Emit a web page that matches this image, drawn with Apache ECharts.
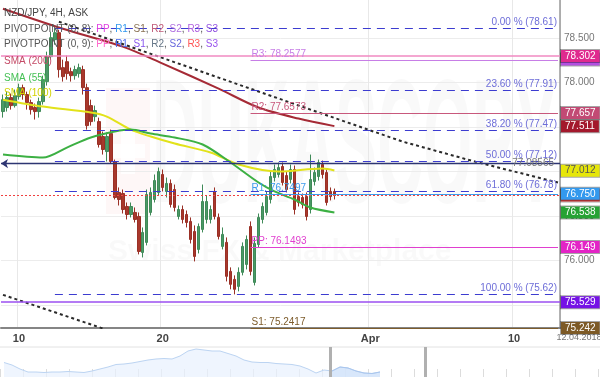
<!DOCTYPE html>
<html>
<head>
<meta charset="utf-8">
<title>NZD/JPY 4H</title>
<script src="https://cdn.jsdelivr.net/npm/echarts@6.0.0/dist/echarts.min.js"></script>
<style>
  html, body { margin: 0; padding: 0; background: #fff; }
  #main { width: 600px; height: 377px; }
</style>
</head>
<body>
<div id="main"></div>
<script>
// 4H candles: [open, close, low, high]
const candles = [
  [77.675, 77.809, 77.607, 77.866], [77.720, 77.832, 77.675, 77.899], [77.832, 77.742, 77.697, 77.877],
  [77.742, 77.854, 77.720, 77.922], [77.843, 77.944, 77.809, 77.989], [77.944, 77.866, 77.809, 77.978],
  [77.866, 77.776, 77.697, 77.899], [77.776, 77.697, 77.641, 77.809], [77.720, 77.675, 77.585, 77.765],
  [77.675, 77.787, 77.607, 77.832], [77.787, 78.034, 77.753, 78.079], [78.012, 78.293, 77.967, 78.349],
  [78.293, 78.506, 78.259, 78.573], [78.484, 78.562, 78.427, 78.613], [78.562, 78.147, 78.057, 78.596],
  [78.169, 78.068, 78.012, 78.259], [78.236, 78.102, 78.034, 78.304], [78.124, 78.079, 78.012, 78.169],
  [78.079, 78.147, 78.034, 78.191], [78.102, 78.169, 78.057, 78.214], [78.147, 77.944, 77.866, 78.191],
  [77.944, 77.517, 77.472, 77.989], [77.742, 77.562, 77.517, 77.809], [77.618, 77.686, 77.562, 77.742],
  [77.562, 77.304, 77.270, 77.607], [77.394, 77.248, 77.191, 77.450], [77.225, 77.394, 77.113, 77.439],
  [77.427, 77.113, 77.090, 77.472], [77.113, 76.708, 76.686, 77.135], [76.765, 76.686, 76.618, 76.821],
  [76.753, 76.573, 76.528, 76.798], [76.607, 76.517, 76.461, 76.652], [76.517, 76.607, 76.484, 76.652],
  [76.540, 76.461, 76.427, 76.596], [76.495, 76.101, 76.068, 76.540], [76.090, 76.315, 76.034, 76.371],
  [76.203, 76.742, 76.169, 76.798], [76.540, 76.765, 76.506, 76.821], [76.686, 76.899, 76.652, 76.967],
  [76.765, 77.000, 76.731, 77.045], [76.967, 76.821, 76.776, 77.023], [76.776, 76.866, 76.708, 76.933],
  [76.866, 76.630, 76.596, 76.911], [76.798, 76.596, 76.551, 76.854], [76.495, 76.573, 76.461, 76.618],
  [76.573, 76.461, 76.416, 76.618], [76.517, 76.427, 76.371, 76.562], [76.439, 76.236, 76.191, 76.484],
  [76.326, 76.045, 75.989, 76.394], [76.124, 76.382, 76.079, 76.416], [76.349, 76.663, 76.315, 76.854],
  [76.461, 76.663, 76.416, 76.731], [76.461, 76.573, 76.416, 76.618], [76.776, 76.495, 76.461, 76.821],
  [76.484, 76.270, 76.236, 76.528], [76.158, 76.293, 76.124, 76.371], [76.203, 75.821, 75.764, 76.259],
  [75.877, 75.731, 75.675, 75.922], [75.787, 75.675, 75.618, 75.832], [75.708, 75.866, 75.652, 75.922],
  [75.866, 76.158, 75.832, 76.203], [75.955, 76.236, 75.899, 76.281], [76.382, 75.877, 75.832, 76.439],
  [75.753, 76.191, 75.719, 76.259], [76.180, 76.484, 76.146, 76.528], [76.461, 76.607, 76.416, 76.652],
  [76.540, 76.720, 76.506, 76.776], [76.686, 76.944, 76.641, 77.000], [76.933, 77.023, 76.888, 77.079],
  [76.967, 77.045, 76.933, 77.102], [77.057, 76.877, 76.843, 77.102], [76.955, 76.798, 76.765, 77.000],
  [76.911, 77.023, 76.866, 77.079], [77.023, 76.573, 76.517, 77.068], [76.720, 76.652, 76.607, 76.765],
  [76.708, 76.630, 76.585, 76.753], [76.720, 76.495, 76.450, 76.765], [76.573, 76.911, 76.528, 77.191],
  [76.888, 76.989, 76.843, 77.045], [76.944, 77.102, 76.899, 77.135], [77.079, 76.967, 76.922, 77.124],
  [76.989, 76.652, 76.618, 77.034], [76.776, 76.720, 76.675, 76.821], [76.776, 76.731, 76.686, 76.809]
];

const slotCount = 140; // bars incl. empty future space
const tickIdx = [4, 40, 92, 128];
const tickText = ['10', '20', 'Apr', '10'];
const yTicks = [75.5, 76, 76.5, 77, 77.5, 78, 78.5];

// moving averages as [bar index, value]
const sma200 = [[0, 78.832], [15, 78.607], [30, 78.405], [40, 78.214], [54, 77.933], [64, 77.720], [74, 77.596], [83, 77.511]];
const sma100 = [[0, 77.809], [10, 77.731], [22, 77.664], [26, 77.618], [32, 77.472], [37, 77.394], [43, 77.315],
  [52, 77.214], [59, 77.079], [69, 77.000], [80, 77.034], [83, 77.012]];
const sma55 = [[0, 77.191], [10, 77.158], [16, 77.270], [22, 77.383], [28, 77.450], [32, 77.472], [37, 77.427],
  [43, 77.383], [50, 77.304], [57, 77.102], [64, 76.877], [68, 76.776], [73, 76.686], [77, 76.596], [83, 76.540]];

// channel trend lines
const trendUpper = [[14, 78.686], [54, 78.057], [77, 77.697], [100, 77.338], [119, 77.102], [139, 76.877]];
const trendLower = [[0, 75.613], [25, 75.235]];

const fibLevels = [78.61, 77.91, 77.47, 77.12, 76.78, 75.62];
const fibNames = ['0.00 %', '23.60 %', '38.20 %', '50.00 %', '61.80 %', '100.00 %'];
const fibStart = 13;

const pivotNames = ['R3', 'R2', 'R1', 'PP', 'S1'];
const pivotValues = [78.2577, 77.6573, 76.7497, 76.1493, 75.2417];
const pivotColors = ['#c77ee6', '#c8587c', '#3d9bec', '#e03fcf', '#7d5c2c'];
const pivotStart = 62;

const midLine = 77.08565;
const lastPrice = 76.73;
const pinkLine = 78.302;
const purpleLine = 75.529;

// right side price tags (drawn in this order)
const tagValues = [78.2577, 78.302, 77.657, 77.511, 77.012, 76.73, 76.750, 76.538, 76.149, 75.529, 75.2417];
const tagColors = ['#b44fe0', '#e02a8e', '#c24a74', '#a3182c', '#e6e60a', '#e04545', '#3399ee', '#26a234', '#e324c6', '#7512e6', '#7d5a26'];

// navigator (bottom strip) heights
const navValues = [14.5, 12, 8, 5, 5, 4.5, 5, 5, 5.5, 5, 4.5, 6, 8, 10, 12.5, 13, 14, 15.5, 17, 18,
  18.5, 18, 21, 26, 28, 27, 26, 26, 23.5, 21, 17, 15, 14.5, 14.5, 13.5, 13, 12.5, 11, 8, 4,
  7, 6, 10, 9, 6, 4, 3.5, 5];
const navWindow = [41.25, 53.1];

const pivotTags = ['PP', 'R1', 'S1', 'R2', 'S2', 'R3', 'S3'];
const pivot8Colors = ['#e040e0', '#3399ee', '#8b7355', '#c05a78', '#b070e0', '#b060e0', '#9050e0'];
const pivot9Colors = ['#ff66cc', '#4466ee', '#8855ee', '#667788', '#6666dd', '#ff5555', '#9955ee'];

const FONT = '"Liberation Sans", Arial, sans-serif';

let categories = [];
for (let i = 0; i < slotCount; i++) {
  let k = tickIdx.indexOf(i);
  categories.push(k >= 0 ? tickText[k] : '');
}

function pivotLegend(title, colors) {
  let rich = {t: {fill: '#555', font: '10px ' + FONT}};
  let text = '{t|' + title + '}';
  pivotTags.forEach(function (name, i) {
    rich['c' + i] = {fill: colors[i], font: '10px ' + FONT};
    text += '{c' + i + '|' + name + '}' + (i < pivotTags.length - 1 ? '{t|, }' : '');
  });
  return {text: text, rich: rich};
}

let levelLines = [];
fibLevels.forEach(function (v, i) {
  levelLines.push([
    {
      coord: [fibStart, v],
      lineStyle: {color: '#3c3cd0', type: [8, 6], width: 1},
      label: {
        show: true, position: 'insideEndTop', distance: 1,
        formatter: fibNames[i] + ' (' + v.toFixed(2) + ')', color: '#6d6dd8', fontSize: 10
      }
    },
    {coord: [slotCount - 1, v]}
  ]);
});
pivotValues.forEach(function (v, i) {
  levelLines.push([
    {
      coord: [pivotStart, v],
      lineStyle: {color: pivotColors[i], type: 'solid', width: 1.2},
      label: {
        show: true, position: 'insideStartTop', distance: 1,
        formatter: pivotNames[i] + ': ' + v.toFixed(4), color: pivotColors[i], fontSize: 10
      }
    },
    {coord: [slotCount - 1, v]}
  ]);
});
levelLines.push({yAxis: pinkLine, lineStyle: {color: '#f08ac2', width: 1.5, type: 'solid'}});
levelLines.push({yAxis: purpleLine, lineStyle: {color: '#9b4ff0', width: 1.5, type: 'solid'}});
levelLines.push({yAxis: lastPrice, lineStyle: {color: '#f04040', width: 1, type: [2, 2]}});

let tagLines = tagValues.map(function (v, i) {
  return {
    yAxis: v,
    lineStyle: {color: 'rgba(0,0,0,0)', width: 0},
    label: {
      show: true, position: 'end', distance: 1,
      formatter: v.toFixed(3),
      backgroundColor: tagColors[i],
      color: tagColors[i] === '#e6e60a' ? '#555' : '#fff',
      fontSize: 10, lineHeight: 11, padding: [1, 4, 0, 4],
      borderColor: 'rgba(0,0,0,0.35)', borderWidth: 1
    }
  };
});

let navPairs = navValues.map(function (h, k) { return [k + 0.5, h]; });
let navWinPairs = navPairs.filter(function (p) { return p[0] >= navWindow[0]; });

let chart = echarts.init(document.getElementById('main'));

let p8 = pivotLegend('PIVOTPOINT (0, 8): ', pivot8Colors);
let p9 = pivotLegend('PIVOTPOINT (0, 9): ', pivot9Colors);

let option = {
  animation: false,
  backgroundColor: '#fff',
  textStyle: {fontFamily: FONT},
  grid: [
    {left: 0, right: 40, top: 0, height: 328},
    {left: 0, right: 0, top: 347, bottom: 0}
  ],
  xAxis: [
    {
      type: 'category', data: categories, boundaryGap: true,
      axisLine: {lineStyle: {color: '#858585', width: 2}},
      axisTick: {show: false},
      axisLabel: {interval: 0, color: '#444', fontWeight: 'bold', fontSize: 11, margin: 5},
      splitLine: {
        show: true,
        interval: function (i) { return tickIdx.indexOf(i) >= 0; },
        lineStyle: {color: '#e8e8e8'}
      }
    },
    {
      type: 'value', gridIndex: 1, min: 0, max: 75, interval: 2.875,
      axisLine: {show: false},
      axisTick: {show: true, inside: true, length: 8, lineStyle: {color: '#dcdcdc'}},
      axisLabel: {show: false},
      splitLine: {show: false}
    }
  ],
  yAxis: [
    {
      type: 'value', position: 'right', min: 75.24, max: 78.93, scale: true,
      axisLine: {show: true, lineStyle: {color: '#999', width: 1.5}},
      axisTick: {show: false, customValues: yTicks},
      axisLabel: {
        customValues: yTicks, color: '#777', fontSize: 10, margin: 4,
        formatter: function (v) { return v.toFixed(3); }
      },
      splitLine: {show: true, lineStyle: {color: '#ececec'}}
    },
    {type: 'value', gridIndex: 1, min: 0, max: 30, show: false}
  ],
  graphic: [
    // watermark
    {type: 'rect', z: -10, shape: {x: 106, y: 88, width: 44, height: 126}, style: {fill: 'rgba(235,110,110,0.055)'}},
    {type: 'rect', z: -9, shape: {x: 121, y: 128, width: 14, height: 46}, style: {fill: 'rgba(255,255,255,0.85)'}},
    {type: 'rect', z: -9, shape: {x: 111, y: 144, width: 34, height: 14}, style: {fill: 'rgba(255,255,255,0.85)'}},
    {
      type: 'text', z: -10, x: 152, y: 153, scaleX: 0.36,
      style: {text: 'DUKASCOPY', font: 'bold 176px ' + FONT, fill: 'rgba(0,0,0,0.022)', verticalAlign: 'middle'}
    },
    {
      type: 'text', z: -10, x: 108, y: 252,
      style: {text: 'Swiss FX & Marketplace', font: 'bold 30px ' + FONT, fill: 'rgba(0,0,0,0.022)', verticalAlign: 'middle'}
    },
    // legend block
    {type: 'text', z: 20, x: 4, y: 13, style: {text: 'NZD/JPY, 4H, ASK', font: '10px ' + FONT, fill: '#444', verticalAlign: 'middle'}},
    {type: 'text', z: 20, x: 4, y: 29, style: {text: p8.text, rich: p8.rich, verticalAlign: 'middle'}},
    {type: 'text', z: 20, x: 4, y: 44, style: {text: p9.text, rich: p9.rich, verticalAlign: 'middle'}},
    {type: 'text', z: 20, x: 4, y: 61, style: {text: 'SMA (200)', font: '10px ' + FONT, fill: '#c44a66', verticalAlign: 'middle'}},
    {type: 'text', z: 20, x: 4, y: 78, style: {text: 'SMA (55)', font: '10px ' + FONT, fill: '#44c054', verticalAlign: 'middle'}},
    {type: 'text', z: 20, x: 4, y: 93, style: {text: 'SMA (100)', font: '10px ' + FONT, fill: '#d2d200', verticalAlign: 'middle'}},
    // date stamp + navigator border
    {type: 'text', x: 579, y: 338, style: {text: '12.04.2018', font: '9px ' + FONT, fill: '#777', align: 'center', verticalAlign: 'middle'}},
    {type: 'line', shape: {x1: 0, y1: 347, x2: 600, y2: 347}, style: {stroke: '#e2e2e2', lineWidth: 1}}
  ],
  series: [
    {
      name: 'NZD/JPY',
      type: 'candlestick',
      data: candles,
      barWidth: 3,
      z: 3,
      itemStyle: {
        color: '#4a9966', color0: '#a8382c',
        borderColor: '#3f8a58', borderColor0: '#9a3026', borderWidth: 1
      }
    },
    {
      name: 'SMA (200)', type: 'line', data: sma200, smooth: 0.3, showSymbol: false, z: 4,
      lineStyle: {color: '#a52a35', width: 2}
    },
    {
      name: 'SMA (100)', type: 'line', data: sma100, smooth: 0.3, showSymbol: false, z: 4,
      lineStyle: {color: '#e2e21a', width: 2}
    },
    {
      name: 'SMA (55)', type: 'line', data: sma55, smooth: 0.3, showSymbol: false, z: 4,
      lineStyle: {color: '#3cb043', width: 2}
    },
    {
      name: 'trend upper', type: 'line', data: trendUpper, showSymbol: false, z: 4,
      lineStyle: {color: '#2a2a2a', width: 2, type: [3, 3]}
    },
    {
      name: 'trend lower', type: 'line', data: trendLower, showSymbol: false, z: 4,
      lineStyle: {color: '#2a2a2a', width: 2, type: [3, 3]}
    },
    {
      name: 'levels', type: 'line', data: [], z: 1,
      markLine: {silent: true, symbol: 'none', label: {show: false}, data: levelLines}
    },
    {
      name: 'mid', type: 'line', data: [], z: 2,
      markLine: {
        silent: true, symbol: ['arrow', 'none'], symbolSize: 7,
        lineStyle: {color: '#2d3572', width: 1.3, type: 'solid'},
        data: [{
          yAxis: midLine,
          label: {show: true, position: 'insideEnd', distance: 6, formatter: midLine.toString(), color: '#777', fontSize: 10}
        }]
      }
    },
    {
      name: 'tags', type: 'line', data: [], z: 10, clip: false,
      markLine: {silent: true, symbol: 'none', data: tagLines}
    },
    {
      name: 'navigator', type: 'line', xAxisIndex: 1, yAxisIndex: 1, data: navPairs,
      showSymbol: false, lineStyle: {color: '#bcd4f2', width: 1}, areaStyle: {color: '#e8f1fd'},
      markLine: {
        silent: true, symbol: 'none', label: {show: false},
        lineStyle: {color: '#b0b0b0', width: 3, type: 'solid'},
        data: [{xAxis: navWindow[0]}, {xAxis: navWindow[1]}]
      }
    },
    {
      name: 'navigator window', type: 'line', xAxisIndex: 1, yAxisIndex: 1, data: navWinPairs,
      showSymbol: false, lineStyle: {color: '#a9c6ee', width: 1}, areaStyle: {color: '#cfe1f9'}
    }
  ]
};

chart.setOption(option);
</script>
</body>
</html>
